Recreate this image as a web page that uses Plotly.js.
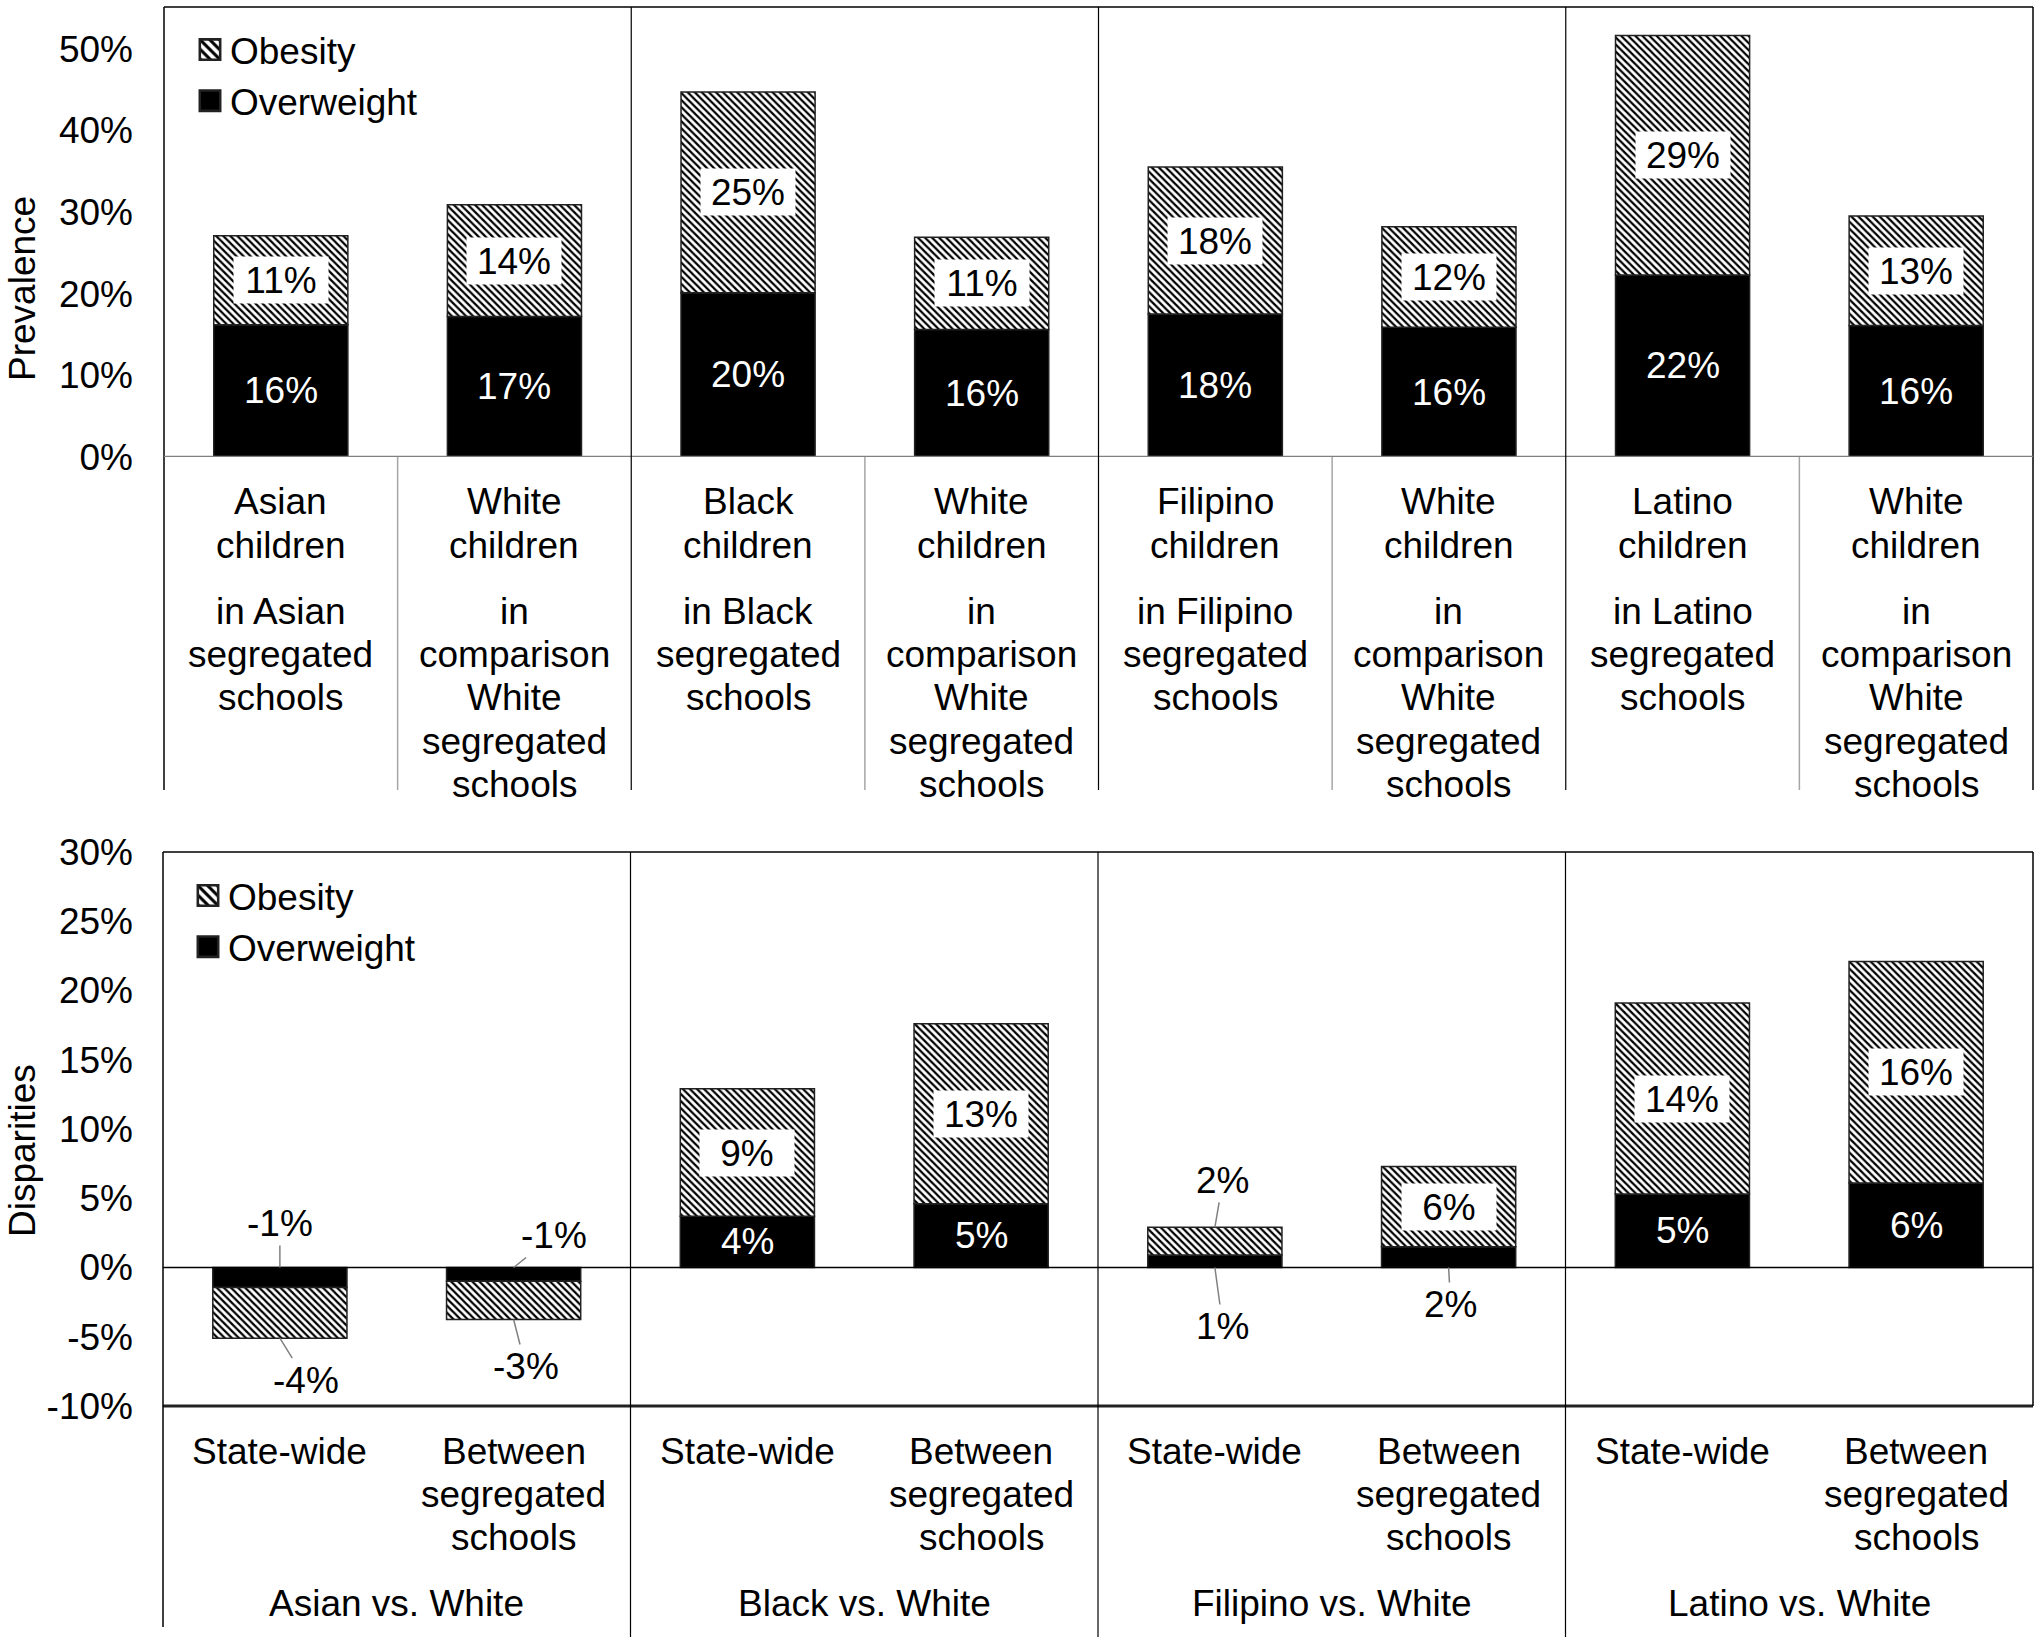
<!DOCTYPE html>
<html>
<head>
<meta charset="utf-8">
<script src="https://cdn.plot.ly/plotly-3.0.1.min.js"></script>
<style>
  html, body { margin: 0; padding: 0; background: #fff; }
  #chart { width: 2040px; height: 1641px; }
</style>
</head>
<body>
<div id="chart"></div>
<script>
// ---- data (percent) ----
var topGroups = ['Asian', 'Asian', 'Black', 'Black', 'Filipino', 'Filipino', 'Latino', 'Latino'];
var topChildren = ['Asian<br>children', 'White<br>children', 'Black<br>children', 'White<br>children',
  'Filipino<br>children', 'White<br>children', 'Latino<br>children', 'White<br>children'];
var topSchools = ['in Asian<br>segregated<br>schools', 'in<br>comparison<br>White<br>segregated<br>schools',
  'in Black<br>segregated<br>schools', 'in<br>comparison<br>White<br>segregated<br>schools',
  'in Filipino<br>segregated<br>schools', 'in<br>comparison<br>White<br>segregated<br>schools',
  'in Latino<br>segregated<br>schools', 'in<br>comparison<br>White<br>segregated<br>schools'];
var topOverweight = [16.2, 17.2, 20.1, 15.6, 17.5, 15.9, 22.3, 16.1];
var topObesity = [10.9, 13.7, 24.6, 11.3, 18.0, 12.3, 29.3, 13.4];

var pairs = ['Asian vs. White', 'Black vs. White', 'Filipino vs. White', 'Latino vs. White'];
var comparisons = ['State-wide', 'Between<br>segregated<br>schools'];
var gapOverweight = [-1.45, -1.0, 3.7, 4.6, 0.9, 1.5, 5.3, 6.1];
var gapObesity = [-3.65, -2.75, 9.2, 13.0, 2.0, 5.8, 13.8, 16.0];

var topTicks = [0, 10, 20, 30, 40, 50];
var gapTicks = [-10, -5, 0, 5, 10, 15, 20, 25, 30];

// labels drawn outside the bar with a leader line (bottom panel)
var outsideLabels = [
  {s: 'ow', i: 0, ax: 0, ay: -44},
  {s: 'ob', i: 0, ax: 26, ay: 42},
  {s: 'ow', i: 1, ax: 40, ay: -32},
  {s: 'ob', i: 1, ax: 12, ay: 47},
  {s: 'ob', i: 4, ax: 8, ay: -47},
  {s: 'ow', i: 4, ax: 8, ay: 59},
  {s: 'ow', i: 5, ax: 2, ay: 37}
];

// ---- helpers ----
var H = 1641;
function py(p) { return 1 - p / H; }
var FONT = 'Liberation Sans, Arial, sans-serif';
var FS = 37;

var topCats = topGroups.map(function (g, i) { return g + ': ' + topChildren[i].replace('<br>', ' ') + ' #' + i; });
var gapCats = [];
pairs.forEach(function (p) { comparisons.forEach(function (c) { gapCats.push(p + ': ' + c.replace(/<br>/g, ' ')); }); });

var hatch = {shape: '\\', fgcolor: '#000', bgcolor: '#fff', size: 5, solidity: 0.45};
var edge = {color: '#222', width: 1.5};

var data = [
  {type: 'bar', name: 'Overweight', x: topCats, y: topOverweight, xaxis: 'x', yaxis: 'y', legend: 'legend',
   marker: {color: '#000', line: edge}, hoverinfo: 'y'},
  {type: 'bar', name: 'Obesity', x: topCats, y: topObesity, xaxis: 'x', yaxis: 'y', legend: 'legend',
   marker: {color: '#fff', pattern: hatch, line: edge}, hoverinfo: 'y'},
  {type: 'bar', name: 'Overweight', x: gapCats, y: gapOverweight, xaxis: 'x2', yaxis: 'y2', legend: 'legend2',
   marker: {color: '#000', line: edge}, hoverinfo: 'y'},
  {type: 'bar', name: 'Obesity', x: gapCats, y: gapObesity, xaxis: 'x2', yaxis: 'y2', legend: 'legend2',
   marker: {color: '#fff', pattern: hatch, line: edge}, hoverinfo: 'y'}
];

var annotations = [];
function pct(v) { return Math.round(v) + '%'; }

function isOutside(s, i) {
  return outsideLabels.some(function (o) { return o.s === s && o.i === i; });
}

// value labels
function addValueLabels(ow, ob, xr, yr, checkOutside) {
  ow.forEach(function (v, i) {
    if (!(checkOutside && isOutside('ow', i))) {
      annotations.push({xref: xr, yref: yr, x: i, y: v / 2, text: pct(v), showarrow: false,
        font: {family: FONT, size: FS, color: '#fff'}});
    }
    if (!(checkOutside && isOutside('ob', i))) {
      annotations.push({xref: xr, yref: yr, x: i, y: v + ob[i] / 2, text: pct(ob[i]), showarrow: false,
        bgcolor: '#fff', width: 92, height: 44, font: {family: FONT, size: FS, color: '#000'}});
    }
  });
}
addValueLabels(topOverweight, topObesity, 'x', 'y', false);
addValueLabels(gapOverweight, gapObesity, 'x2', 'y2', true);

outsideLabels.forEach(function (o) {
  var val = o.s === 'ow' ? gapOverweight[o.i] : gapObesity[o.i];
  var tipY = o.s === 'ow' ? 0 : gapOverweight[o.i] + gapObesity[o.i];
  annotations.push({xref: 'x2', yref: 'y2', x: o.i, y: tipY, text: pct(val), showarrow: true,
    arrowhead: 0, arrowwidth: 1.5, arrowcolor: '#808080', ax: o.ax, ay: o.ay, standoff: 0,
    font: {family: FONT, size: FS, color: '#000'}});
});

// category labels, one annotation per line
function addLines(text, x, xr, yStart, step) {
  text.split('<br>').forEach(function (line, k) {
    annotations.push({xref: xr, yref: 'paper', x: x, y: py(yStart + k * step), text: line,
      showarrow: false, yanchor: 'middle', font: {family: FONT, size: FS, color: '#000'}});
  });
}
topChildren.forEach(function (t, i) {
  addLines(t, i, 'x', 502, 43.2);
  addLines(topSchools[i], i, 'x', 611.5, 43.2);
});
gapCats.forEach(function (c, i) {
  addLines(comparisons[i % 2], i, 'x2', 1451, 43.2);
});
pairs.forEach(function (p, g) {
  addLines(p, 2 * g + 0.5, 'x2', 1603, 43.2);
});

// axis titles
annotations.push({xref: 'paper', yref: 'paper', x: 22 / 2040, y: py(289), text: 'Prevalence', textangle: -90,
  xanchor: 'center', yanchor: 'middle', showarrow: false, font: {family: FONT, size: FS, color: '#000'}});
annotations.push({xref: 'paper', yref: 'paper', x: 22 / 2040, y: py(1151), text: 'Disparities', textangle: -90,
  xanchor: 'center', yanchor: 'middle', showarrow: false, font: {family: FONT, size: FS, color: '#000'}});

// frame and divider lines
var black = {color: '#000', width: 1.5};
var grey = {color: '#a6a6a6', width: 1.5};
var shapes = [
  {type: 'line', xref: 'x domain', yref: 'paper', x0: 0, x1: 1, y0: py(7), y1: py(7), line: black},
  {type: 'line', xref: 'x domain', yref: 'paper', x0: 0, x1: 0, y0: py(790), y1: py(7), line: black},
  {type: 'line', xref: 'x domain', yref: 'paper', x0: 1, x1: 1, y0: py(790), y1: py(7), line: black},
  {type: 'line', xref: 'x domain', yref: 'y', x0: 0, x1: 1, y0: 0, y1: 0, line: {color: '#808080', width: 2.5}},
  {type: 'line', xref: 'x2 domain', yref: 'y2 domain', x0: 0, x1: 1, y0: 1, y1: 1, line: black},
  {type: 'line', xref: 'x2 domain', yref: 'y2 domain', x0: 0, x1: 1, y0: 0, y1: 0, line: {color: '#222', width: 3}},
  {type: 'line', xref: 'x2 domain', yref: 'y2', x0: 0, x1: 1, y0: 0, y1: 0, line: black},
  {type: 'line', xref: 'x2 domain', yref: 'paper', x0: 0, x1: 0, y0: py(1627), y1: py(852), line: black},
  {type: 'line', xref: 'x2 domain', yref: 'y2 domain', x0: 1, x1: 1, y0: 0, y1: 1, line: black}
];
[1.5, 3.5, 5.5].forEach(function (x) {
  shapes.push({type: 'line', xref: 'x', yref: 'paper', x0: x, x1: x, y0: py(790), y1: py(7), line: {color: '#000', width: 1.2}});
  shapes.push({type: 'line', xref: 'x2', yref: 'paper', x0: x, x1: x, y0: py(1637), y1: py(852), line: {color: '#000', width: 1.2}});
});
[0.5, 2.5, 4.5, 6.5].forEach(function (x) {
  shapes.push({type: 'line', xref: 'x', yref: 'paper', x0: x, x1: x, y0: py(790), y1: py(457), line: grey});
});

function yAxis(domain, range, ticks) {
  return {domain: domain, range: range, tickmode: 'array', tickvals: ticks,
    ticktext: ticks.map(function (v) { return v + '%'; }),
    showgrid: false, zeroline: false, showline: false, ticks: '', ticklabelstandoff: 30,
    tickfont: {family: FONT, size: FS, color: '#000'}, fixedrange: true};
}
function xAxis(domain, anchor) {
  return {domain: domain, anchor: anchor, type: 'category', showticklabels: false, showgrid: false,
    zeroline: false, showline: false, ticks: '', fixedrange: true};
}

var legendFont = {family: FONT, size: FS, color: '#000'};
var layout = {
  width: 2040, height: 1641,
  margin: {l: 0, r: 0, t: 0, b: 0},
  paper_bgcolor: '#fff', plot_bgcolor: '#fff',
  font: {family: FONT, size: FS, color: '#000'},
  barmode: 'relative', bargap: 0.426,
  xaxis: xAxis([164 / 2040, 2033 / 2040], 'y'),
  yaxis: yAxis([py(457), py(7)], [0, 55.1], topTicks),
  xaxis2: xAxis([163 / 2040, 2033 / 2040], 'y2'),
  yaxis2: yAxis([py(1406), py(852)], [-10, 30], gapTicks),
  legend: {x: 190 / 2040, y: py(19), xanchor: 'left', yanchor: 'top', traceorder: 'reversed',
    font: legendFont, bgcolor: 'rgba(0,0,0,0)', itemclick: false},
  legend2: {x: 188 / 2040, y: py(865), xanchor: 'left', yanchor: 'top', traceorder: 'reversed',
    font: legendFont, bgcolor: 'rgba(0,0,0,0)', itemclick: false},
  annotations: annotations,
  shapes: shapes
};

Plotly.newPlot('chart', data, layout, {displayModeBar: false, staticPlot: true}).then(function (gd) {
  // legend swatches are drawn 12px square; the figure uses ~20px squares
  gd.querySelectorAll('.legendpoints path').forEach(function (p) {
    var t = p.getAttribute('transform') || '';
    p.setAttribute('transform', t + ' scale(1.7)');
  });
});
</script>
</body>
</html>
